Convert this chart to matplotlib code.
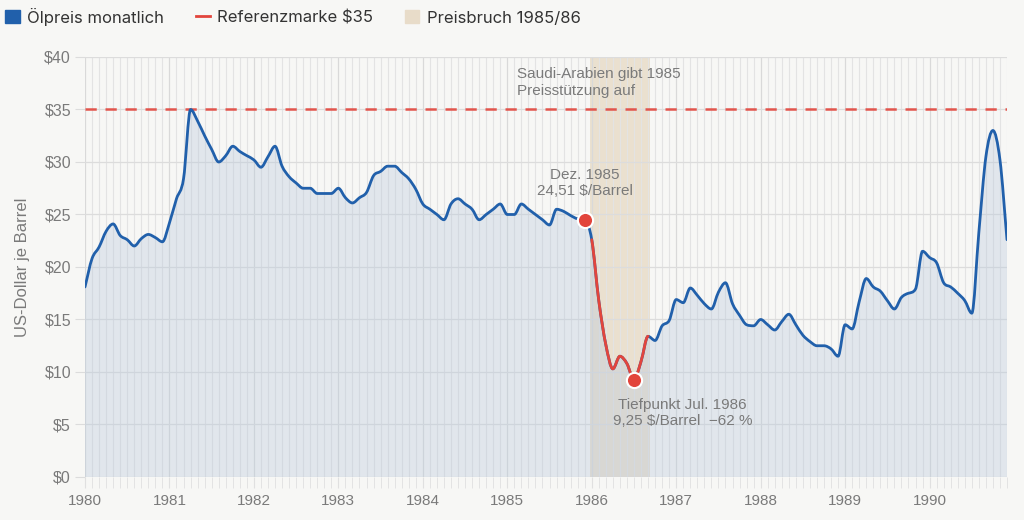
import numpy as np
import matplotlib
matplotlib.use("Agg")
import matplotlib.pyplot as plt
from matplotlib.path import Path
from matplotlib.patches import PathPatch, Patch
from matplotlib.lines import Line2D

# monthly oil price, Jan 1980 .. Dec 1990 (USD per barrel)
prices_1980 = [18.1, 20.8, 21.9, 23.4, 24.1, 23.0, 22.6, 22.0, 22.7, 23.1, 22.8, 22.4]
prices_1981 = [24.2, 26.5, 28.4, 35.0, 33.9, 32.5, 31.2, 30.0, 30.6, 31.5, 31.0, 30.6]
prices_1982 = [30.2, 29.5, 30.5, 31.5, 29.6, 28.6, 28.0, 27.5, 27.5, 27.0, 27.0, 27.0]
prices_1983 = [27.5, 26.6, 26.1, 26.6, 27.1, 28.7, 29.1, 29.6, 29.6, 29.0, 28.4, 27.4]
prices_1984 = [26.0, 25.5, 25.0, 24.5, 26.0, 26.5, 26.0, 25.5, 24.5, 25.0, 25.5, 26.0]
prices_1985 = [25.0, 25.0, 26.0, 25.5, 25.0, 24.5, 24.0, 25.5, 25.3, 24.9, 24.6, 24.51]
prices_1986 = [22.6, 16.8, 12.6, 10.3, 11.5, 10.8, 9.25, 11.0, 13.4, 13.0, 14.4, 14.9]
prices_1987 = [16.9, 16.6, 18.0, 17.3, 16.5, 16.0, 17.6, 18.5, 16.5, 15.4, 14.5, 14.4]
prices_1988 = [15.0, 14.5, 14.0, 14.8, 15.5, 14.5, 13.5, 12.9, 12.5, 12.5, 12.2, 11.5]
prices_1989 = [14.5, 14.1, 16.7, 18.9, 18.1, 17.7, 16.8, 16.0, 17.1, 17.5, 17.9, 21.5]
prices_1990 = [20.9, 20.4, 18.5, 18.1, 17.5, 16.8, 15.6, 23.3, 30.5, 33.0, 30.2, 22.6]

year_labels = ["1980", "1981", "1982", "1983", "1984", "1985",
               "1986", "1987", "1988", "1989", "1990"]
y_ticks = [0, 5, 10, 15, 20, 25, 30, 35, 40]
ref_level = 35
crash_range = (72, 80)        # Jan 1986 .. Sep 1986, drawn red
shade_range = (71.7, 80.3)    # Preisbruch band
dec85_idx, dec85_val = 71, 24.51
low_idx, low_val = 78, 9.25

BLUE = "#2160ab"
RED = "#e2453c"
TAN = "#e8dcc9"
BG = "#f7f7f5"
GRAY = "#7a7a7a"

prices = np.array(prices_1980 + prices_1981 + prices_1982 + prices_1983 +
                  prices_1984 + prices_1985 + prices_1986 + prices_1987 +
                  prices_1988 + prices_1989 + prices_1990)
x = np.arange(len(prices))


def monotone_tangents(xs, ys):
    dx = np.diff(xs)
    s = np.diff(ys) / dx
    m = np.zeros(len(ys))
    m[0], m[-1] = s[0], s[-1]
    for k in range(1, len(ys) - 1):
        m[k] = 0.0 if s[k - 1] * s[k] <= 0 else (s[k - 1] + s[k]) / 2
    for k in range(len(s)):
        if s[k] == 0:
            m[k] = m[k + 1] = 0.0
            continue
        a, b = m[k] / s[k], m[k + 1] / s[k]
        h = np.hypot(a, b)
        if h > 3:
            t = 3 / h
            m[k], m[k + 1] = t * a * s[k], t * b * s[k]
    return m


def curve_path(xs, ys, m, i0, i1, close_to=None):
    verts = [(xs[i0], ys[i0])]
    codes = [Path.MOVETO]
    for k in range(i0, i1):
        d = xs[k + 1] - xs[k]
        verts += [(xs[k] + d / 3, ys[k] + m[k] * d / 3),
                  (xs[k + 1] - d / 3, ys[k + 1] - m[k + 1] * d / 3),
                  (xs[k + 1], ys[k + 1])]
        codes += [Path.CURVE4] * 3
    if close_to is not None:
        verts = [(xs[i0], close_to)] + verts + [(xs[i1], close_to), (xs[i0], close_to)]
        codes = [Path.MOVETO, Path.LINETO] + codes[1:] + [Path.LINETO, Path.CLOSEPOLY]
    return Path(verts, codes)


tang = monotone_tangents(x.astype(float), prices)

plt.rcParams["font.family"] = ["Liberation Sans", "DejaVu Sans"]
fig = plt.figure(figsize=(10.24, 5.2), dpi=100, facecolor=BG)
ax = fig.add_axes([0.083, 0.0827, 0.9004, 0.8077])
ax.set_facecolor(BG)

ax.axvspan(*shade_range, color=TAN, alpha=0.85, lw=0, zorder=0.3)

fill = PathPatch(curve_path(x, prices, tang, 0, len(x) - 1, close_to=0),
                 facecolor="#b8c8dc", alpha=0.35, lw=0, zorder=1)
ax.add_patch(fill)

ax.axhline(ref_level, color=RED, lw=1.8, ls=(0, (4.5, 3.5)), alpha=0.9, zorder=2)

ax.add_patch(PathPatch(curve_path(x, prices, tang, 0, len(x) - 1),
                       facecolor="none", edgecolor=BLUE, lw=2.0,
                       capstyle="round", joinstyle="round", zorder=3))
ax.add_patch(PathPatch(curve_path(x, prices, tang, *crash_range),
                       facecolor="none", edgecolor=RED, lw=2.0,
                       capstyle="round", zorder=4))

ax.scatter([dec85_idx, low_idx], [dec85_val, low_val], s=120, color=RED,
           edgecolors="white", linewidths=1.5, zorder=5)

ax.text(61.4, 37.6, "Saudi-Arabien gibt 1985\nPreisstützung auf", ha="left",
        va="center", fontsize=11, color=GRAY, linespacing=1.25, zorder=6)
ax.text(dec85_idx, 28.0, "Dez. 1985\n24,51 $/Barrel", ha="center",
        va="center", fontsize=11, color=GRAY, linespacing=1.25, zorder=6)
ax.text(84.9, 6.1, "Tiefpunkt Jul. 1986\n9,25 $/Barrel  \u221262 %", ha="center",
        va="center", fontsize=11, color=GRAY, linespacing=1.25, zorder=6)

ax.set_xlim(0, len(x) - 1)
ax.set_ylim(0, 40)
ax.set_xticks(np.arange(0, len(x), 12))
ax.set_xticklabels(year_labels)
ax.set_xticks(x, minor=True)
ax.set_yticks(y_ticks)
ax.set_yticklabels([f"${v}" for v in y_ticks])
ax.set_axisbelow(True)
ax.grid(which="minor", axis="x", color="#e3e3e3", lw=0.8)
ax.grid(which="major", axis="x", color="#d9d9d9", lw=0.9)
ax.grid(which="major", axis="y", color="#dcdcdc", lw=0.9)
ax.tick_params(axis="x", which="both", length=8, color="#e0e0e0",
               labelsize=11, labelcolor=GRAY, pad=4)
ax.tick_params(axis="y", length=7, color="#dcdcdc", labelsize=11.5,
               labelcolor=GRAY, pad=3)
for sp in ax.spines.values():
    sp.set_visible(False)
ax.set_ylabel("US-Dollar je Barrel", fontsize=12, color=GRAY, labelpad=10)

handles = [Patch(facecolor=BLUE, edgecolor=BLUE),
           Line2D([], [], color=RED, lw=2),
           Patch(facecolor=TAN, edgecolor=TAN)]
labels = ["Ölpreis monatlich", "Referenzmarke $35", "Preisbruch 1985/86"]
fig.legend(handles, labels, loc="upper left", bbox_to_anchor=(-0.002, 1.0),
           ncol=3, frameon=False, handlelength=0.85, handleheight=0.85,
           handletextpad=0.45, columnspacing=1.9, borderaxespad=0.15,
           borderpad=0.3,
           prop={"family": ["Inter", "DejaVu Sans"], "size": 12}, labelcolor="#333333")

fig.savefig("out.png", dpi=100, facecolor=BG)
